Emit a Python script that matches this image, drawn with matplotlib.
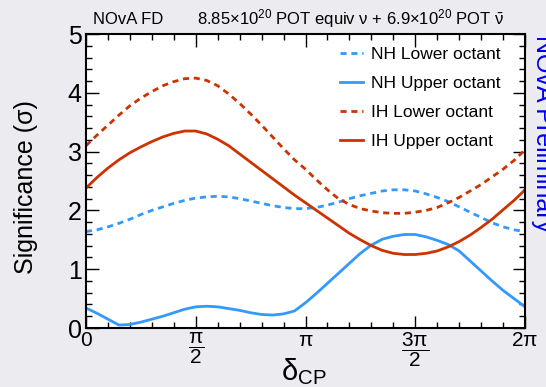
import matplotlib
matplotlib.use("Agg")
import matplotlib.pyplot as plt
from matplotlib.ticker import MultipleLocator, FixedLocator
import numpy as np

# delta_CP grid in units of pi (steps of 0.05 pi)
delta_over_pi = np.linspace(0, 2, 41)

# Significance values
nh_lower = [1.64, 1.67, 1.72, 1.78, 1.85, 1.93, 2.00, 2.06, 2.12, 2.17,
            2.21, 2.23, 2.24, 2.23, 2.20, 2.16, 2.12, 2.08, 2.05, 2.03,
            2.03, 2.05, 2.09, 2.14, 2.20, 2.25, 2.29, 2.33, 2.35, 2.35,
            2.33, 2.28, 2.22, 2.15, 2.06, 1.97, 1.88, 1.79, 1.72, 1.67, 1.64]
nh_upper = [0.34, 0.25, 0.15, 0.05, 0.06, 0.10, 0.15, 0.20, 0.26, 0.32,
            0.36, 0.37, 0.36, 0.33, 0.30, 0.26, 0.23, 0.22, 0.24, 0.29,
            0.43, 0.59, 0.76, 0.93, 1.10, 1.27, 1.41, 1.51, 1.56, 1.59,
            1.59, 1.55, 1.49, 1.42, 1.31, 1.14, 0.97, 0.80, 0.64, 0.50, 0.36]
ih_lower = [3.10, 3.28, 3.45, 3.62, 3.78, 3.91, 4.02, 4.12, 4.19, 4.24,
            4.25, 4.21, 4.12, 3.98, 3.82, 3.64, 3.45, 3.25, 3.05, 2.86,
            2.70, 2.52, 2.35, 2.20, 2.10, 2.03, 1.99, 1.96, 1.95, 1.95,
            1.97, 2.00, 2.05, 2.13, 2.22, 2.33, 2.44, 2.57, 2.70, 2.85, 3.03]
ih_upper = [2.38, 2.56, 2.72, 2.86, 2.98, 3.08, 3.17, 3.25, 3.31, 3.35,
            3.35, 3.30, 3.21, 3.10, 2.96, 2.82, 2.68, 2.54, 2.40, 2.26,
            2.13, 2.00, 1.87, 1.74, 1.61, 1.50, 1.40, 1.32, 1.27, 1.25,
            1.25, 1.27, 1.31, 1.38, 1.47, 1.58, 1.71, 1.85, 2.01, 2.17, 2.35]

labels = ["NH Lower octant", "NH Upper octant", "IH Lower octant", "IH Upper octant"]
xtick_labels = ["0", r"$\dfrac{\mathrm{\pi}}{2}$", r"$\mathrm{\pi}$",
                r"$\dfrac{3\mathrm{\pi}}{2}$", r"$2\mathrm{\pi}$"]

def main():
    plt.rcParams['font.family'] = ['Liberation Sans', 'DejaVu Sans']
    plt.rcParams['mathtext.fontset'] = 'custom'
    plt.rcParams['mathtext.rm'] = 'Liberation Sans'
    plt.rcParams['mathtext.it'] = 'Liberation Sans:italic'

    blue = '#3399ff'
    red = '#cc3300'

    fig = plt.figure(figsize=(5.46, 3.87), dpi=100, facecolor='#ebebf0')
    ax = fig.add_axes([86/546, 1 - 328/387, (525 - 86)/546, (328 - 34)/387])

    xx = delta_over_pi*np.pi
    ax.plot(xx, nh_lower, color=blue, lw=2, dashes=(2.2, 1.7), label=labels[0])
    ax.plot(xx, nh_upper, color=blue, lw=2, label=labels[1])
    ax.plot(xx, ih_lower, color=red, lw=2, dashes=(2.2, 1.7), label=labels[2])
    ax.plot(xx, ih_upper, color=red, lw=2, label=labels[3])

    ax.set_xlim(0, 2*np.pi)
    ax.set_ylim(0, 5)
    ax.xaxis.set_major_locator(FixedLocator(np.arange(5)*np.pi/2))
    ax.xaxis.set_minor_locator(MultipleLocator(np.pi/10))
    ax.set_xticklabels(xtick_labels)
    ax.yaxis.set_major_locator(MultipleLocator(1))
    ax.yaxis.set_minor_locator(MultipleLocator(0.2))

    ax.tick_params(which='both', direction='in', top=True, right=True, width=1)
    ax.tick_params(which='major', length=9, pad=3)
    ax.tick_params(which='minor', length=4.5)
    ax.tick_params(axis='x', labelsize=15, pad=2)
    ax.tick_params(axis='y', labelsize=18)
    for sp in ax.spines.values():
        sp.set_linewidth(1.5)

    ax.set_ylabel("Significance (σ)", fontsize=18)
    ax.yaxis.set_label_coords(-0.11, 0.48)
    ax.set_xlabel(r"$\mathrm{\delta}_{\mathrm{CP}}$", fontsize=21)
    ax.xaxis.set_label_coords(0.497, -0.095)

    ax.legend(loc='upper left', bbox_to_anchor=(340/546, 1 - 47/387),
              bbox_transform=fig.transFigure, frameon=False, fontsize=12.5,
              handlelength=1.35, handletextpad=0.45, labelspacing=0.8,
              borderpad=0, borderaxespad=0)

    fig.text(93/546, 1 - 24/387, "NOvA FD", fontsize=12, va='baseline')
    fig.text(197/546, 1 - 24/387,
             r"8.85×10$^{20}$ POT equiv ν + 6.9×10$^{20}$ POT $\bar{\mathrm{\nu}}$",
             fontsize=12, va='baseline')
    fig.text(531/546, 1 - 35/387, "NOvA Preliminary", fontsize=18,
             color='#0000ee', rotation=270, ha='left', va='top')

    fig.savefig("out.png", dpi=100, facecolor=fig.get_facecolor())

if __name__ == "__main__":
    main()
